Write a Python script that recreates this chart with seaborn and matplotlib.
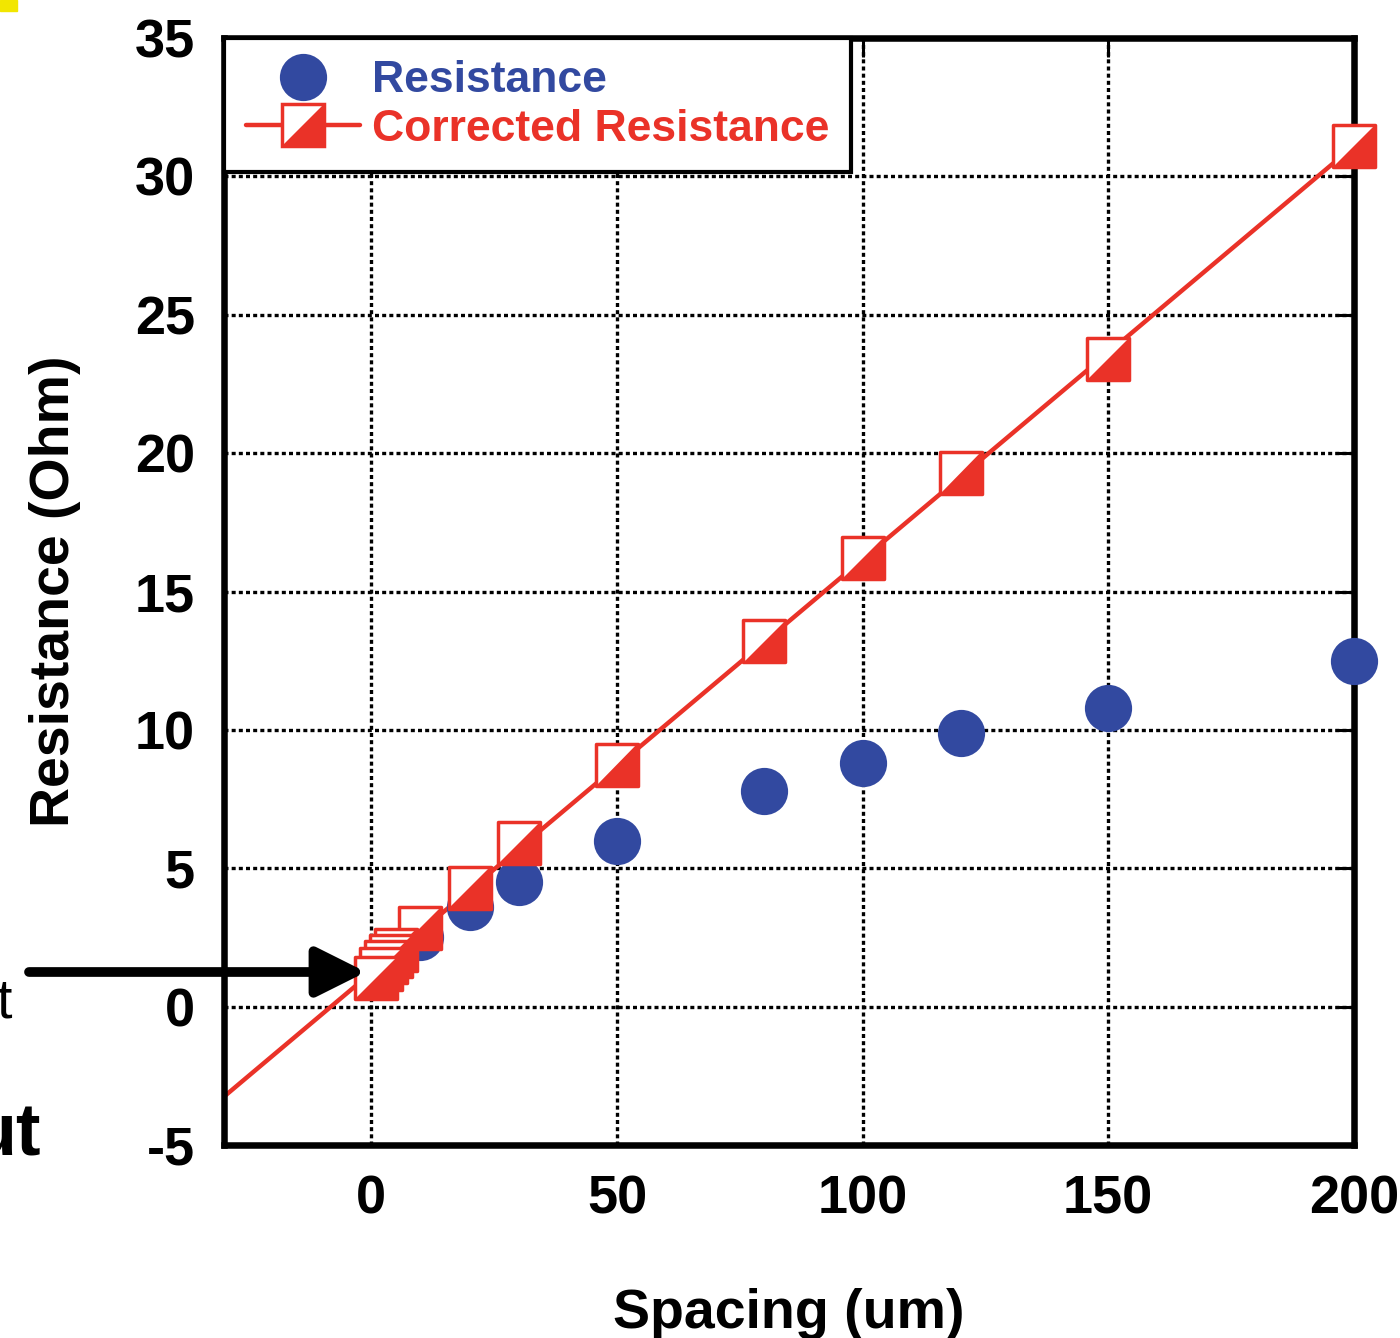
import matplotlib
matplotlib.use("Agg")
import numpy as np
import pandas as pd
import matplotlib.pyplot as plt
import seaborn as sns
from matplotlib.lines import Line2D
from matplotlib.path import Path
from matplotlib.patches import Rectangle

# Measured resistance vs. contact spacing
spacing_raw = [10, 20, 30, 50, 80, 100, 120, 150, 200]
resistance = [2.5, 3.6, 4.5, 6.0, 7.8, 8.8, 9.9, 10.8, 12.5]

# Corrected resistance (includes the closely spaced points near zero)
spacing_corr = [1, 2, 3, 4, 5, 10, 20, 30, 50, 80, 100, 120, 150, 200]
corrected = [1.05, 1.37, 1.63, 1.84, 2.06, 2.86, 4.3, 5.9, 8.75, 13.2, 16.2, 19.3, 23.4, 31.1]

x_ticks = [0, 50, 100, 150, 200]
y_ticks = [-5, 0, 5, 10, 15, 20, 25, 30, 35]
legend_labels = ["Resistance", "Corrected Resistance"]

BLUE = "#3249A0"
RED = "#EA3228"

sns.set_theme(style="white")
plt.rcParams["font.family"] = ["Liberation Sans", "DejaVu Sans"]
plt.rcParams["font.weight"] = "bold"

df_res = pd.DataFrame({"spacing": spacing_raw, "resistance": resistance})
df_corr = pd.DataFrame({"spacing": spacing_corr, "corrected": corrected})

fig = plt.figure(figsize=(14, 13.38), dpi=100)
ax = fig.add_axes([0.16, 0.1442, 0.807, 0.8274])
ax.set_xlim(-30, 200)
ax.set_ylim(-5, 35)

# linear fit of the corrected values, extended over the full x range
sns.regplot(data=df_corr, x="spacing", y="corrected", scatter=False, ci=None,
            truncate=False, color=RED, ax=ax,
            line_kws=dict(lw=3.2, zorder=2))

# measured points
sns.scatterplot(data=df_res, x="spacing", y="resistance", s=34 ** 2,
                color=BLUE, edgecolor=BLUE, linewidth=0, clip_on=False,
                zorder=2.6, legend=False, ax=ax)

# half-filled squares: white square with red outline + red lower-right triangle
tri = Path([(-1, -1), (1, -1), (1, 1), (-1, -1)],
           [Path.MOVETO, Path.LINETO, Path.LINETO, Path.CLOSEPOLY])
sq_side = 30.6
for i in df_corr.sort_values("spacing", ascending=False).index:
    row = df_corr.loc[[i]]
    sns.scatterplot(data=row, x="spacing", y="corrected", marker="s",
                    s=sq_side ** 2, color="white", edgecolor=RED, linewidth=2.5,
                    clip_on=False, zorder=3, legend=False, ax=ax)
    sns.scatterplot(data=row, x="spacing", y="corrected", marker=tri,
                    s=sq_side ** 2, color=RED, edgecolor="none", linewidth=0,
                    clip_on=False, zorder=3, legend=False, ax=ax)

ax.set_xlim(-30, 200)
ax.set_ylim(-5, 35)
ax.set_xticks(x_ticks)
ax.set_yticks(y_ticks)
ax.set_xticklabels([str(v) for v in x_ticks])
ax.set_yticklabels([str(v) for v in y_ticks])

ax.set_axisbelow(True)
ax.grid(True, color="black", linestyle=(0, (1.2, 0.95)), linewidth=2.4)
for sp in ax.spines.values():
    sp.set_visible(True)
    sp.set_color("black")
    sp.set_linewidth(4.7)

ax.tick_params(axis="both", which="major", direction="in", length=14, width=2.2,
               color="black", top=True, right=True, labelsize=39,
               labelcolor="black")
ax.tick_params(axis="y", pad=21)
ax.tick_params(axis="x", pad=21)
for lab in ax.get_xticklabels() + ax.get_yticklabels():
    lab.set_fontweight("bold")

ax.set_xlabel("Spacing (um)", fontsize=40, fontweight="bold", color="black")
ax.set_ylabel("Resistance (Ohm)", fontsize=40, fontweight="bold", color="black")
ax.xaxis.set_label_coords(0.5, -0.129)
ax.yaxis.set_label_coords(-0.1265, 0.5)

# legend
h_res = Line2D([], [], ls="none", marker="o", ms=34, mfc=BLUE, mec=BLUE, mew=0)
h_sq = Line2D([], [], color=RED, lw=3.2, marker="s", ms=sq_side, mfc="white",
              mec=RED, mew=2.5)
h_tri = Line2D([], [], ls="none", marker=tri, ms=sq_side, mfc=RED, mec="none", mew=0)
leg = ax.legend([h_res, (h_sq, h_tri)], legend_labels, loc="upper left",
                bbox_to_anchor=(0, 1), borderaxespad=0, fancybox=False,
                framealpha=1, edgecolor="black", handlelength=2.57,
                handletextpad=0.25, borderpad=0.5, labelspacing=0.17,
                prop={"weight": "bold", "size": 32}, labelcolor=[BLUE, RED])
leg.get_frame().set_linewidth(3)
leg.set_zorder(5)

# annotation arrow pointing at the first point
ax.annotate("", xy=(366 / 1400, 1 - 972 / 1338), xycoords="figure fraction",
            xytext=(29 / 1400, 1 - 972 / 1338), textcoords="figure fraction",
            arrowprops=dict(arrowstyle="-|>,head_length=1.5,head_width=0.75",
                            mutation_scale=20, lw=7, color="black",
                            shrinkA=0, shrinkB=0),
            annotation_clip=False)

# text fragments at the left edge
fig.text(-4 / 1400, 1 - 1017 / 1338, "t", fontsize=40, fontweight="normal",
         color="black", ha="left", va="baseline")
fig.text(41 / 1400, 1 - 1155 / 1338, "ut", fontsize=53, fontweight="bold",
         color="black", ha="right", va="baseline")

fig.patches.append(Rectangle((0, 1 - 11 / 1338), 17 / 1400, 11 / 1338,
                             transform=fig.transFigure, color="#F2E600",
                             zorder=10))

fig.savefig("out.png", dpi=100)
